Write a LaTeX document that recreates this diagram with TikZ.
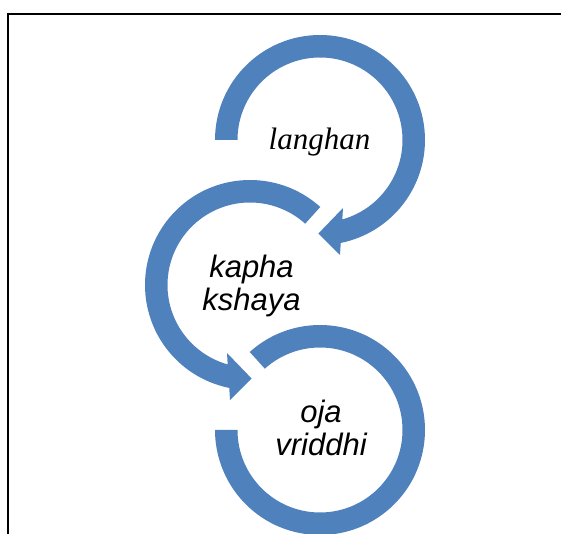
\documentclass[tikz,border=0pt]{standalone}
\usepackage{fontspec}
\setmainfont{Liberation Serif}
\setsansfont{Liberation Sans}
\usepackage{tikz}
\usetikzlibrary{positioning}
\definecolor{arrowblue}{HTML}{4F81BD}
\tikzstyle{band} = [fill=arrowblue, draw=none]
\tikzstyle{frame} = [draw=black, line width=1.7pt]
\tikzstyle{serifword} = [font=\fontsize{23.25}{24.5}\selectfont\itshape, inner sep=0pt]
\tikzstyle{sansword} = [font=\sffamily\fontsize{23.25}{24.5}\selectfont\itshape,
                        align=center, inner sep=0pt]

\begin{document}
\begin{tikzpicture}[x=0.75pt,y=0.75pt]
            \useasboundingbox (0,0) rectangle (561,-534);
            \draw[frame] (8,-534) -- (8,-14) -- (561,-14);
            \coordinate (topc) at (320,-140);
            \coordinate (midc) at (250,-285);
            \coordinate (botc) at (320,-430);
            % circular arrows
            \fill[band, shift={(topc)}] (180:105) arc[start angle=180, end angle=-78.6, radius=105]
                -- (20,-115) -- (-1.6,-93.5) -- (23,-68) -- (-74.3:82.5)
                arc[start angle=-74.3, end angle=180, radius=82.5] -- cycle;
            \fill[band, shift={(midc)}] (48:105) arc[start angle=48, end angle=258.6, radius=105]
                -- (-20,-115) -- (1.6,-93.5) -- (-23,-68) -- (254.3:82.5)
                arc[start angle=254.3, end angle=48, radius=82.5] -- cycle;
            \fill[band, shift={(botc)}] (132:105) arc[start angle=132, end angle=-180, radius=105]
                -- (-180:82.5) arc[start angle=-180, end angle=132, radius=82.5] -- cycle;
            % labels
            \node[serifword, anchor=base] (langhan) at (319.5,-150) {langhan};
            \node[sansword] (kapha) at (251.5,-286) {kapha\\kshaya};
            \node[sansword] (oja) at (321,-428) {oja\\vriddhi};
        \end{tikzpicture}
\end{document}
